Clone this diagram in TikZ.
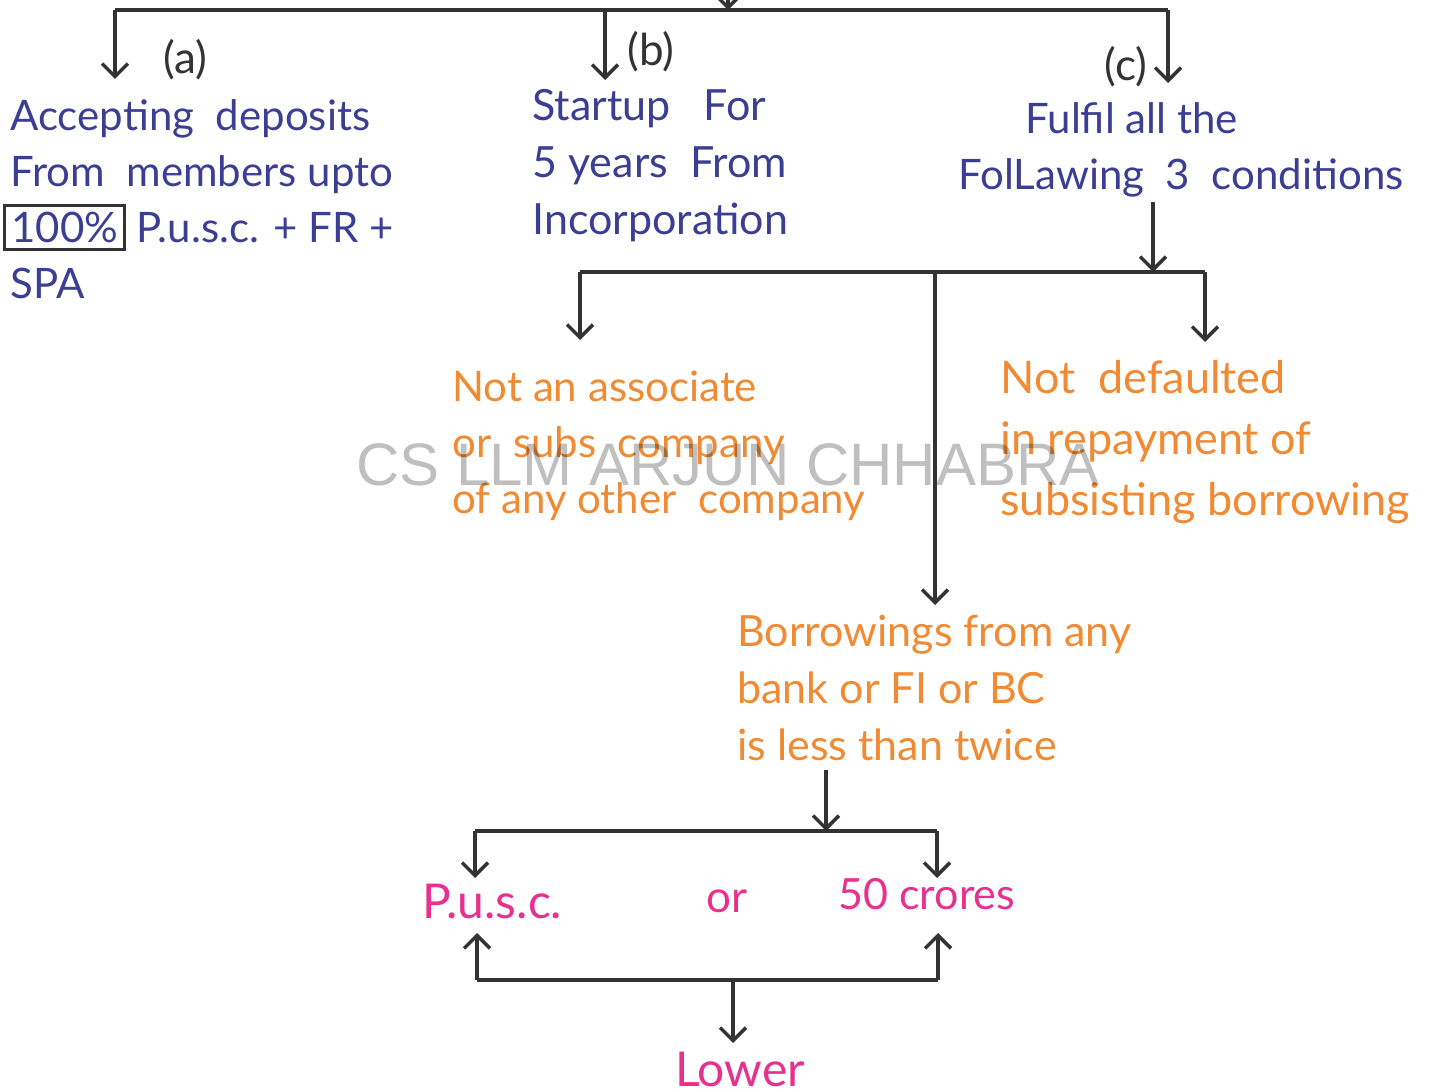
\documentclass[tikz,border=0pt]{standalone}
\usepackage{fontspec}
\setmainfont{Lato}
\newfontfamily\wmfont{Liberation Sans}
\usetikzlibrary{arrows.meta}
\definecolor{tblue}{HTML}{3B3F94}
\definecolor{torange}{HTML}{F08A33}
\definecolor{tpink}{HTML}{E8308F}
\definecolor{lclr}{HTML}{333333}
\tikzset{
  conn/.style={draw=lclr, line width=1.7pt},
  arr/.style={conn, -{Straight Barb[length=6.5pt,width=13pt,line width=1.7pt]}},
  bluetxt/.style={anchor=north west, inner sep=0pt, align=left, text=tblue, font=\fontsize{21}{28}\selectfont},
  orangetxt/.style={anchor=north west, inner sep=0pt, align=left, text=torange, font=\fontsize{21}{28}\selectfont},
  pinktxt/.style={anchor=base, inner sep=0pt, text=tpink, font=\fontsize{24}{28}\selectfont},
  lbl/.style={inner sep=0pt, text=lclr, font=\fontsize{22}{28}\selectfont},
}
\begin{document}
\begin{tikzpicture}[x=0.5pt, y=-0.5pt]
\useasboundingbox (0,0) rectangle (1433,1090);
% top level
\coordinate (src) at (728,-40);
\coordinate (hub) at (728,10);
\coordinate (hA) at (115,10);
\coordinate (hB) at (605,10);
\coordinate (hC) at (1168,10);
\coordinate (tipA) at (115,79);
\coordinate (tipB) at (605,80);
\coordinate (tipC) at (1168,83);
\draw[conn] (hA) -- (hC);
\draw[arr] (src) -- (hub);
\draw[arr] (hA) -- (tipA);
\draw[arr] (hB) -- (tipB);
\draw[arr] (hC) -- (tipC);
\node[lbl] (la) at (185,60) {(a)};
\node[lbl] (lb) at (651,52) {(b)};
\node[lbl] (lc) at (1126,67) {(c)};
% texts
\node[bluetxt] (ta) at (10,91) {\strut Accepting\ \ deposits\\From\ \ members upto\\\hspace*{-3.5pt}{\fboxsep=2.5pt\fboxrule=1.5pt\fcolorbox{lclr}{white}{100\%}} P.u.s.c. + FR +\\SPA};
\node[bluetxt, font=\fontsize{21.5}{28.5}\selectfont] (tb) at (532,80) {\strut Startup\ \ \ For\\5 years\ \ From\\Incorporation};
\node[bluetxt] (tc) at (958,94) {\strut\hspace*{33.5pt}Fulfil all the\\FolLawing\ \ 3\ \ conditions};
% second level
\coordinate (c0) at (1153,202);
\coordinate (c1) at (1153,272);
\coordinate (bL) at (580,272);
\coordinate (bM) at (935,272);
\coordinate (bR) at (1205,272);
\coordinate (tipL) at (580,340);
\coordinate (tipM) at (935,605);
\coordinate (tipR) at (1205,342);
\draw[arr] (c0) -- (c1);
\draw[conn] (bL) -- (bR);
\draw[arr] (bL) -- (tipL);
\draw[arr] (bM) -- (tipM);
\draw[arr] (bR) -- (tipR);
\node[orangetxt] (o1) at (452,362) {\strut Not an associate\\or\ \ subs\ \ company\\of any other\ \ company};
\node[orangetxt, font=\fontsize{22.5}{30.5}\selectfont] (o2) at (1000,350) {\strut Not\ \ defaulted\\in repayment of\\subsisting borrowing};
\node[orangetxt, font=\fontsize{21.5}{28.5}\selectfont] (o3) at (737,606) {\strut Borrowings from any\\bank or FI or BC\\is less than twice};
% third level
\coordinate (d0) at (826,770);
\coordinate (d1) at (826,831);
\coordinate (eL) at (475,831);
\coordinate (eR) at (937,831);
\coordinate (tipPL) at (475,878);
\coordinate (tipPR) at (937,878);
\draw[arr] (d0) -- (d1);
\draw[conn] (eL) -- (eR);
\draw[arr] (eL) -- (tipPL);
\draw[arr] (eR) -- (tipPR);
\node[pinktxt, anchor=base west] (p1) at (422,918) {P.u.s.c.};
\node[pinktxt, font=\fontsize{22}{28}\selectfont] (p2) at (727,912) {or};
\node[pinktxt, anchor=base west, font=\fontsize{21.5}{28}\selectfont] (p3) at (838,909) {50 crores};
% bottom
\coordinate (fL) at (477,980);
\coordinate (fR) at (938,980);
\coordinate (fM) at (733,980);
\coordinate (upL) at (477,933);
\coordinate (upR) at (938,933);
\coordinate (tipLow) at (733,1043);
\draw[conn] (fL) -- (fR);
\draw[arr] (fL) -- (upL);
\draw[arr] (fR) -- (upR);
\draw[arr] (fM) -- (tipLow);
\node[pinktxt] (low) at (740,1086) {Lower};
% watermark
\node[inner sep=0pt, text=black, text opacity=0.25, font=\wmfont\fontsize{30}{30}\selectfont] (wm) at (728,465) {CS LLM ARJUN CHHABRA};
\end{tikzpicture}
\end{document}
